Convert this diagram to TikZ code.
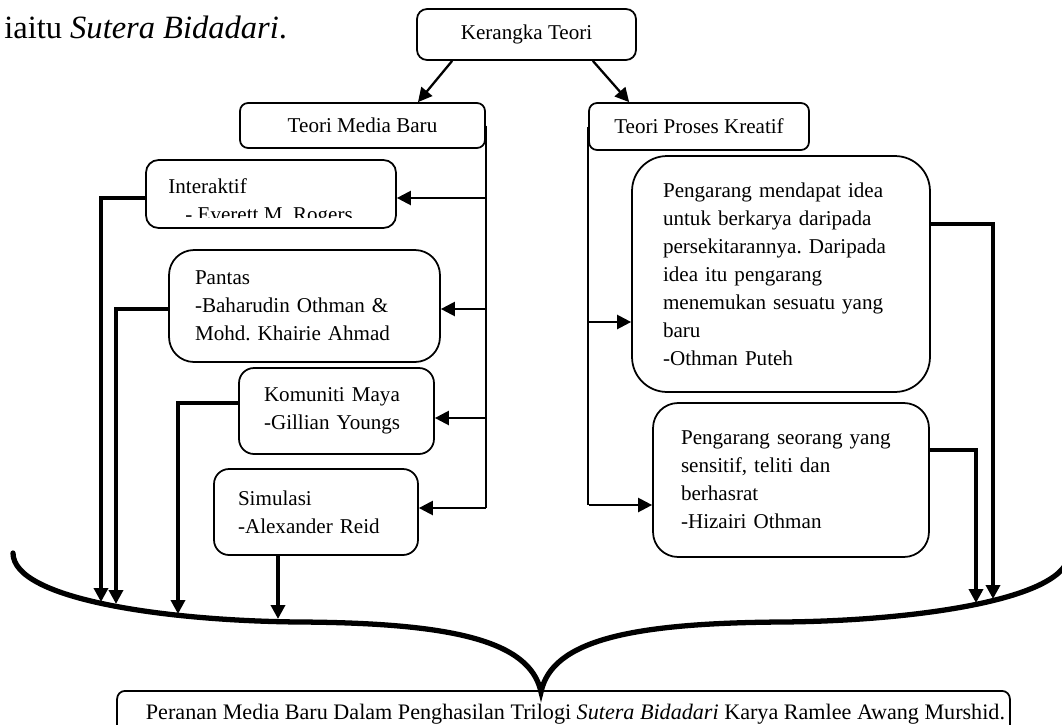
\documentclass[tikz,border=0pt]{standalone}
\usepackage{fontspec}
\setmainfont{Liberation Serif}
\usetikzlibrary{arrows.meta,calc}
\begin{document}
\frenchspacing
\begin{tikzpicture}[x=0.02cm,y=-0.02cm,
  font=\fontsize{12}{15.9}\selectfont\frenchspacing,
  box/.style={draw,line width=1pt,align=left,inner sep=0pt},
  tip/.style={-{Triangle[length=0.28cm,width=0.28cm]}},
  feed/.style={line width=2.3pt,tip},
  branch/.style={line width=1.3pt,tip},
  trunk/.style={line width=1.3pt},
  brace/.style={line width=3pt,line cap=round}
]
\useasboundingbox (0,0) rectangle (1062,724);

% intro text
\node[anchor=base west,inner sep=0pt,font=\fontsize{18.5}{22}\selectfont] (intro) at (4,38) {iaitu \textit{Sutera Bidadari}.};

% top boxes
\node[box,rounded corners=0.2cm,minimum width=4.38cm,minimum height=1.02cm,align=center] (ker) at (526.5,34.5) {Kerangka Teori};
\node[box,rounded corners=0.16cm,minimum width=4.9cm,minimum height=0.9cm,align=center] (tmb) at (362.5,125.5) {Teori Media Baru};
\node[box,rounded corners=0.16cm,minimum width=4.4cm,minimum height=0.94cm,align=center] (tpk) at (699,126.5) {Teori Proses Kreatif};

% left column
\node[box,rounded corners=0.25cm,minimum width=5cm,minimum height=1.36cm] (inter) at (271,194) {};
\node[anchor=base west,inner sep=0pt] (intert) at (168,193) {Interaktif};
\begin{scope}
  \clip (146,160) rectangle (396,217);
  \node[anchor=base west,inner sep=0pt] (interb) at (185,221) {- Everett M. Rogers.};
\end{scope}
\node[box,rounded corners=0.5cm,minimum width=5.42cm,minimum height=2.24cm,text width=4.38cm] (pan) at (304.5,306) {Pantas\\-Baharudin Othman \&\\Mohd. Khairie Ahmad};
\node[box,rounded corners=0.3cm,minimum width=3.9cm,minimum height=1.72cm,text width=2.9cm] (kom) at (336.5,411) {Komuniti Maya\\-Gillian Youngs};
\node[box,rounded corners=0.3cm,minimum width=4.08cm,minimum height=1.72cm,text width=3.12cm] (sim) at (316,512) {Simulasi\\-Alexander Reid};

% right column
\node[box,rounded corners=0.7cm,minimum width=5.96cm,minimum height=4.72cm,text width=4.72cm] (oth) at (781,274) {Pengarang mendapat idea\\untuk berkarya daripada\\persekitarannya. Daripada\\idea itu pengarang\\menemukan sesuatu yang\\baru\\-Othman Puteh};
\node[box,rounded corners=0.5cm,minimum width=5.52cm,minimum height=3.08cm,text width=4.4cm] (hiz) at (791,480) {Pengarang seorang yang\\sensitif, teliti dan\\berhasrat\\-Hizairi Othman\\[-0.2cm]};

% bottom box
\node[box,rounded corners=0.16cm,anchor=north,minimum width=17.86cm,inner ysep=0.27cm,align=center,font=\fontsize{12.6}{15}\selectfont] (res) at (563.5,690) {\hspace*{0.48cm}Peranan Media Baru Dalam Penghasilan Trilogi \textit{Sutera Bidadari} Karya Ramlee Awang Murshid.};

% brace
\coordinate (bl) at (13,553);
\coordinate (bm) at (541,692);
\coordinate (br) at (1069,553);
\draw[brace] (bl) .. controls (13,600) and (170,621) .. (300,622)
  .. controls (450,623) and (530,640) .. (bm)
  .. controls (552,640) and (632,623) .. (782,622)
  .. controls (912,621) and (1069,600) .. (br);

% arrow targets on the brace
\coordinate (b1) at (101,602);
\coordinate (b2) at (116,604);
\coordinate (b3) at (178,614);
\coordinate (b4) at (278,619);
\coordinate (b5) at (976,603);
\coordinate (b6) at (993,599);

% top arrows
\draw[branch] ($(ker.south west)+(36,0)$) -- ($(tmb.north)+(55.5,0)$);
\draw[branch] ($(ker.south east)+(-44,0)$) -- ($(tpk.north west)+(41,0)$);

% left trunk
\coordinate (lb) at (486,508);
\draw[trunk] (tmb.east -| lb) -- (lb);
\draw[branch] (lb) -- (lb -| sim.east);
\draw[branch] ($(inter.east -| lb)+(0,4)$) -- ($(inter.east)+(0,4)$);
\draw[branch] ($(pan.east -| lb)+(0,3)$) -- ($(pan.east)+(0,3)$);
\draw[branch] ($(kom.east -| lb)+(0,7)$) -- ($(kom.east)+(0,7)$);

% right trunk
\coordinate (rb) at (589,505);
\draw[trunk] (tpk.west) -- (tpk.west |- rb);
\draw[branch] (rb) -- (rb -| hiz.west);
\draw[branch] ($(oth.west -| rb)+(0,48)$) -- ($(oth.west)+(0,48)$);

% feeds to the brace
\draw[feed] ($(inter.west)+(0,4)$) -| (b1);
\draw[feed] ($(pan.west)+(0,3)$) -| (b2);
\draw[feed] ($(kom.west)+(0,-8)$) -| (b3);
\draw[feed] (sim.south -| b4) -- (b4);
\draw[feed] ($(oth.east)+(0,-50)$) -| (b6);
\draw[feed] ($(hiz.east)+(0,-30)$) -| (b5);
\end{tikzpicture}
\end{document}
